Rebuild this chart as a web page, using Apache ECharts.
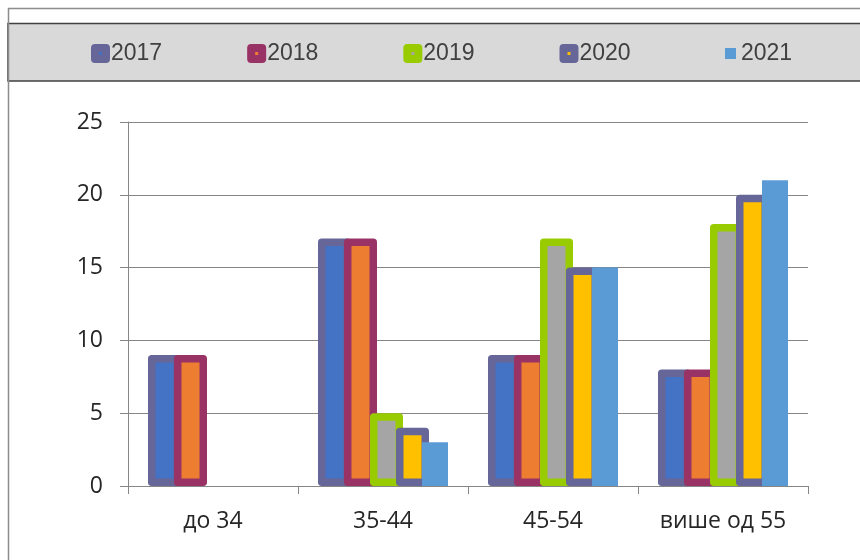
<!DOCTYPE html>
<html>
<head>
<meta charset="utf-8">
<script src="https://cdn.jsdelivr.net/npm/echarts@6/dist/echarts.min.js"></script>
<style>
  html, body { margin: 0; padding: 0; background: #fff; }
  #chart { width: 860px; height: 560px; }
</style>
</head>
<body>
<div id="chart"></div>
<script>
  // age groups
  var categories = ['до 34', '35-44', '45-54', 'више од 55'];
  var years = ['2017', '2018', '2019', '2020', '2021'];
  // values per year
  var v2017 = [9, 17, 9, 8];
  var v2018 = [9, 17, 9, 8];
  var v2019 = [null, 5, 17, 18];
  var v2020 = [null, 4, 15, 20];
  var v2021 = [null, 3, 15, 21];
  var yTicks = [0, 5, 10, 15, 20, 25];

  var fills   = ['#4472C4', '#ED7D31', '#A5A5A5', '#FFC000', '#5B9BD5'];
  var borders = ['#666699', '#993366', '#99CC00', '#666699', null];
  var values  = [v2017, v2018, v2019, v2020, v2021];

  var dom = echarts.init(document.getElementById('chart'));

  var series = [];
  var legendData = [];
  years.forEach(function (y, i) {
    var st = { color: fills[i] };
    if (borders[i]) {
      st.borderColor = borders[i];
      st.borderWidth = 7.5;
      st.borderJoin = 'round';
    }
    series.push({
      name: y,
      type: 'bar',
      data: values[i],
      // border is drawn inside the bar, so bordered bars are wider and overlap
      barWidth: borders[i] ? 33 : 26,
      barGap: '-21.2%',
      itemStyle: st
    });
    legendData.push({
      name: y,
      itemStyle: borders[i]
        ? { color: fills[i], borderColor: borders[i], borderWidth: 8, borderJoin: 'round' }
        : { color: fills[i], borderWidth: 0 }
    });
  });

  var legendText = {
    fontFamily: "'Liberation Sans', Arial, sans-serif",
    fontSize: 23,
    color: '#404040'
  };

  var option = {
    animation: false,
    backgroundColor: '#fff',
    graphic: [
      { type: 'rect', shape: { x: 8, y: 23.5, width: 860, height: 57.5 },
        style: { fill: '#D9D9D9', stroke: '#404040', lineWidth: 1.5 }, z: -10 },
      { type: 'line', shape: { x1: 8, y1: 8.5, x2: 860, y2: 8.5 },
        style: { stroke: '#8c8c8c', lineWidth: 1.5 }, z: -10 },
      { type: 'line', shape: { x1: 8.5, y1: 8, x2: 8.5, y2: 560 },
        style: { stroke: '#8c8c8c', lineWidth: 1.5 }, z: -10 }
    ],
    legend: [{
      data: legendData.slice(0, 4),
      left: 91,
      top: 42,
      padding: 0,
      itemWidth: 11,
      itemHeight: 11,
      itemGap: 85,
      icon: 'rect',
      textStyle: legendText
    }, {
      data: legendData.slice(4),
      left: 725,
      top: 42,
      padding: 0,
      itemWidth: 11,
      itemHeight: 11,
      icon: 'rect',
      textStyle: legendText
    }],
    grid: { left: 128, right: 52, top: 122, bottom: 74 },
    xAxis: {
      type: 'category',
      data: categories,
      axisLine: { lineStyle: { color: '#868686', width: 1 } },
      axisTick: { show: true, length: 8, lineStyle: { color: '#868686' } },
      axisLabel: {
        margin: 24,
        fontFamily: "'Open Sans', sans-serif",
        fontSize: 23,
        color: '#262626'
      }
    },
    yAxis: {
      type: 'value',
      min: yTicks[0],
      max: yTicks[yTicks.length - 1],
      interval: 5,
      axisLine: { show: true, lineStyle: { color: '#868686', width: 1 } },
      axisTick: { show: true, length: 8, lineStyle: { color: '#868686' } },
      splitLine: { lineStyle: { color: '#868686', width: 1 } },
      axisLabel: {
        margin: 25,
        fontFamily: "'Open Sans', sans-serif",
        fontSize: 23,
        color: '#262626'
      }
    },
    series: series
  };

  dom.setOption(option);
</script>
</body>
</html>
